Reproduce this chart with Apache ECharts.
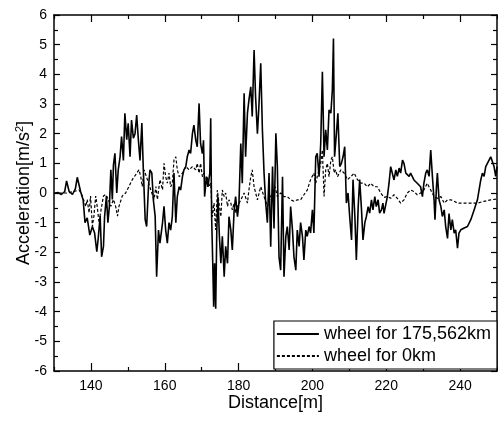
<!DOCTYPE html>
<html>
<head>
<meta charset="utf-8">
<script src="https://cdn.jsdelivr.net/npm/echarts@6/dist/echarts.min.js"></script>
<style>html,body{margin:0;padding:0;background:#fff}#c{width:498px;height:422px}</style>
</head>
<body>
<div id="c"></div>
<script>
// ---- data ----
const xTickLabels = [140, 160, 180, 200, 220, 240];
const xMinorTicks = [130, 150, 170, 190, 210, 230, 250];
const seriesNames = ['wheel for 175,562km', 'wheel for 0km'];

const solidX = [130.0,131.0,132.0,132.9,133.4,134.1,135.0,135.8,136.3,137.2,137.9,138.4,139.0,139.7,140.4,141.0,141.6,142.0,142.5,142.9,143.4,143.7,144.2,144.6,145.0,145.4,145.8,146.1,146.5,147.0,147.4,147.9,148.3,148.8,149.2,149.7,150.1,150.6,151.0,151.5,151.95,152.4,152.85,153.3,153.8,154.2,154.7,155.1,155.6,156.0,156.5,156.9,157.4,157.8,158.3,158.7,159.4,159.8,160.25,160.7,161.15,161.6,162.05,162.5,163.0,163.4,163.9,164.3,164.8,165.2,165.7,166.1,166.6,167.0,167.5,167.9,168.4,168.8,169.3,169.7,170.2,170.5,170.8,171.3,171.7,172.2,172.45,172.7,173.0,173.25,173.5,173.8,174.1,174.4,174.8,175.2,175.6,176.1,176.5,177.0,177.4,177.9,178.3,178.8,179.2,179.7,180.1,180.6,181.0,181.5,181.9,182.4,182.8,183.3,183.7,184.2,184.6,185.1,185.5,186.0,186.45,186.9,187.35,187.8,188.25,188.7,189.2,189.6,190.1,190.5,190.95,191.4,191.9,192.3,192.8,193.2,193.7,194.1,194.6,195.0,195.5,195.9,196.4,196.8,197.3,197.7,198.2,198.6,199.1,199.5,200.0,200.4,200.9,201.3,201.8,202.25,202.7,203.15,203.6,204.05,204.5,205.0,205.4,205.7,206.0,206.5,206.9,207.4,207.85,208.3,208.75,209.2,209.65,210.1,210.6,211.0,211.5,211.9,212.4,212.8,213.3,213.7,214.2,214.6,215.1,215.5,216.0,216.4,216.9,217.3,217.8,218.2,218.7,219.1,219.4,220.3,220.75,221.2,221.65,222.1,222.6,223.0,223.5,223.9,224.4,224.8,225.3,225.7,226.2,226.6,227.5,228.4,229.3,229.8,230.2,230.7,231.1,231.6,232.05,232.5,232.95,233.2,233.6,233.85,234.3,234.8,235.2,235.7,236.1,236.6,237.0,237.5,237.9,238.4,238.8,239.3,239.7,240.2,241.1,242.0,242.9,243.8,244.7,245.6,246.05,246.5,246.95,247.4,247.85,248.3,248.8,249.2,249.65,250.0];
const solidY = [-0.02,0.02,-0.05,0.05,0.41,0.05,-0.05,0.15,0.53,0.05,-0.24,-1.0,-0.84,-1.42,-1.13,-1.35,-1.98,-1.5,-0.78,-2.15,-1.8,-0.8,-0.1,-1.0,-0.45,0.78,-0.22,0.94,1.34,0.0,0.78,1.22,1.9,1.1,2.69,1.8,2.35,1.22,2.46,1.85,2.0,2.63,1.8,1.1,2.36,0.78,-0.9,-1.13,0.23,0.78,0.67,-0.22,-0.78,-2.82,-1.25,-1.69,-1.0,-0.45,-1.25,-1.69,-1.0,-1.25,-0.8,0.67,-1.0,-0.12,0.21,0.1,0.55,0.78,0.89,1.22,1.45,1.33,2.01,2.29,1.78,1.56,3.02,1.67,1.33,1.78,-0.12,0.55,0.21,0.67,2.52,-0.8,-2.37,-3.83,-2.37,-3.9,-1.25,-0.12,-1.46,-2.37,-1.46,-2.82,-1.8,-2.37,-0.8,-1.25,-1.92,-0.57,-0.12,-0.8,-0.34,1.67,0.33,3.36,1.22,2.69,3.13,3.58,2.58,4.82,3.25,2.0,2.91,4.37,2.13,0.67,-0.34,-1.0,0.67,-1.81,0.89,-1.2,2.01,0.89,-2.15,-2.6,0.55,-2.82,-1.46,-1.13,-1.92,-0.46,-1.25,-2.15,-2.6,-1.25,-1.8,-1.0,-1.46,-2.26,-1.25,-1.46,-1.13,-1.35,-0.57,-1.35,1.22,1.34,0.55,1.67,4.09,1.22,2.13,1.45,2.8,2.69,3.47,5.21,1.22,2.0,2.69,0.89,1.0,1.22,1.56,-0.34,0.0,-0.8,-1.58,0.45,-0.8,-2.26,-0.46,0.45,-0.57,-1.58,-1.0,-0.8,-0.46,-0.68,-0.23,-0.57,-0.12,-0.46,-0.23,-0.68,-0.57,-0.34,-0.69,-0.12,0.33,0.89,0.95,0.44,0.78,0.56,0.84,0.67,1.11,1.0,0.67,0.67,0.56,0.67,0.44,0.33,0.21,-0.12,0.33,0.67,0.78,0.56,1.45,0.56,-0.23,-0.9,0.21,0.67,-0.23,-0.46,-0.79,-0.57,-1.13,-1.53,-0.69,-1.24,-0.9,-1.35,-1.24,-1.86,-1.35,-1.24,-1.18,-1.13,-0.9,-0.57,-0.23,0.44,0.67,0.56,0.89,1.0,1.11,1.22,1.28,0.89,0.56,0.89];

const dashX = [130.0,133.5,135.4,136.8,137.7,138.6,139.0,139.5,139.9,140.4,140.8,141.3,141.7,142.2,142.6,143.4,144.0,144.7,145.4,146.1,146.7,147.2,147.6,148.5,149.4,150.3,151.2,152.1,153.0,153.5,153.9,154.4,155.3,156.2,157.1,157.6,158.0,158.7,159.4,159.8,160.25,160.7,161.15,161.6,162.05,162.5,163.0,163.4,163.9,164.8,165.7,166.6,167.5,168.4,168.8,169.3,169.7,170.2,170.65,171.1,171.55,172.0,172.45,172.9,173.35,173.8,174.25,174.7,175.2,175.6,176.1,176.5,177.0,177.4,177.9,178.3,178.8,179.2,179.7,180.6,181.5,182.4,182.8,183.3,183.7,184.2,185.1,186.0,186.9,187.8,188.7,189.9,190.5,191.4,192.3,193.2,194.1,195.0,195.9,196.8,197.7,198.6,199.5,200.4,200.9,201.3,202.25,202.7,203.15,203.6,204.05,204.5,205.0,205.4,205.9,206.3,206.8,207.7,208.6,209.5,210.4,211.3,212.2,213.1,214.0,214.9,215.8,216.7,217.6,218.5,219.4,220.3,221.2,222.1,223.0,223.9,224.8,225.7,226.6,227.5,228.4,229.3,230.2,231.1,232.05,232.95,233.85,234.8,235.7,236.6,237.5,238.4,239.3,241.1,242.9,244.7,246.5,248.3,250.0];
const dashY = [0.0,0.0,0.05,0.1,-0.1,-0.45,-0.22,-0.67,-0.1,-1.13,-0.78,-0.1,-0.45,-1.0,-0.67,-0.1,-0.05,-0.22,-0.45,-0.22,-0.45,-0.78,-0.45,-0.1,0.0,0.22,0.45,0.61,0.78,0.56,0.22,0.78,0.45,0.11,-0.22,0.22,-0.22,0.45,0.11,1.0,0.55,0.33,0.67,0.21,0.33,1.11,1.22,0.78,0.55,0.67,0.89,0.78,0.89,0.78,1.0,0.67,1.0,0.55,0.67,0.33,0.55,0.21,0.33,-0.8,-0.34,-1.25,0.1,-0.34,-0.8,0.1,-0.12,0.0,-0.45,-0.23,-0.34,-0.57,-0.34,-0.68,-0.45,-0.23,0.0,-0.34,0.1,0.55,0.78,0.21,-0.23,0.21,-0.12,-0.45,-0.12,0.21,-0.12,0.0,-0.12,-0.12,-0.23,-0.28,-0.23,-0.23,-0.06,0.1,0.45,0.67,0.33,0.55,1.0,1.45,-0.12,0.78,1.0,0.55,1.11,1.22,0.67,0.78,0.55,0.78,0.67,0.45,0.55,0.67,0.45,0.33,0.33,0.21,0.33,0.21,0.21,0.0,-0.15,-0.12,-0.18,-0.06,-0.18,-0.34,-0.23,0.0,0.1,0.05,-0.06,0.0,0.1,0.33,0.1,-0.12,-0.18,-0.12,-0.34,-0.23,-0.23,-0.28,-0.34,-0.34,-0.34,-0.34,-0.28,-0.23,-0.2];

const pair = (xs, ys) => xs.map((x, i) => [x, ys[i]]);
const FONT = '"Liberation Sans", Arial, sans-serif';
const lineStyle = { color: '#000', width: 1.5 };

const chart = echarts.init(document.getElementById('c'), null, { renderer: 'canvas' });
const xBase = { type: 'value', min: 130, max: 250, gridIndex: 0 };
const yBase = { type: 'value', min: -6, max: 6, interval: 1, gridIndex: 0 };

chart.setOption({
  animation: false,
  backgroundColor: '#fff',
  grid: { left: 54, right: 1, top: 15, bottom: 51, containLabel: false, outerBoundsMode: 'none' },
  xAxis: [
    Object.assign({}, xBase, {
      position: 'bottom',
      name: 'Distance[m]', nameLocation: 'middle', nameGap: 23, nameMoveOverlap: false,
      nameTextStyle: { fontFamily: FONT, fontSize: 18, color: '#000', verticalAlign: 'top' },
      axisLine: { show: true, onZero: false, lineStyle },
      axisTick: { show: true, inside: true, length: 8, customValues: xTickLabels, lineStyle: { color: '#000', width: 1.2 } },
      axisLabel: { show: true, customValues: xTickLabels, margin: 8, color: '#000', fontFamily: FONT, fontSize: 14 },
      splitLine: { show: false }
    }),
    Object.assign({}, xBase, {
      position: 'bottom',
      axisLine: { show: false, onZero: false },
      axisTick: { show: true, inside: true, length: 4, customValues: xMinorTicks, lineStyle: { color: '#000', width: 1.2 } },
      axisLabel: { show: false },
      splitLine: { show: false }
    }),
    Object.assign({}, xBase, {
      position: 'top',
      axisLine: { show: true, onZero: false, lineStyle },
      axisTick: { show: true, inside: true, length: 7, customValues: xTickLabels, lineStyle: { color: '#000', width: 1.2 } },
      axisLabel: { show: false },
      splitLine: { show: false }
    }),
    Object.assign({}, xBase, {
      position: 'top',
      axisLine: { show: false, onZero: false },
      axisTick: { show: true, inside: true, length: 4, customValues: xMinorTicks, lineStyle: { color: '#000', width: 1.2 } },
      axisLabel: { show: false },
      splitLine: { show: false }
    })
  ],
  yAxis: [
    Object.assign({}, yBase, {
      position: 'left',
      name: '{n|Acceleration[m/s}{s|2}{n|]}', nameLocation: 'middle', nameGap: 20, nameMoveOverlap: false,
      nameTextStyle: {
        fontFamily: FONT, fontSize: 18, color: '#000', verticalAlign: 'bottom',
        rich: {
          n: { fontFamily: FONT, fontSize: 18, color: '#000' },
          s: { fontFamily: FONT, fontSize: 11, color: '#000', verticalAlign: 'top', padding: [0, 0, 9, 0] }
        }
      },
      axisLine: { show: true, onZero: false, lineStyle },
      axisTick: { show: true, inside: true, length: 6, lineStyle: { color: '#000', width: 1.2 } },
      minorTick: { show: true, splitNumber: 2, length: 4, lineStyle: { color: '#000', width: 1.2 } },
      axisLabel: { show: true, margin: 7, color: '#000', fontFamily: FONT, fontSize: 14 },
      splitLine: { show: false }, minorSplitLine: { show: false }
    }),
    Object.assign({}, yBase, {
      position: 'right',
      axisLine: { show: true, onZero: false, lineStyle },
      axisTick: { show: true, inside: true, length: 6, lineStyle: { color: '#000', width: 1.2 } },
      minorTick: { show: true, splitNumber: 2, length: 4, lineStyle: { color: '#000', width: 1.2 } },
      axisLabel: { show: false },
      splitLine: { show: false }, minorSplitLine: { show: false }
    })
  ],
  legend: {
    show: true,
    orient: 'vertical',
    right: 1, top: 321,
    data: seriesNames,
    itemWidth: 42, itemHeight: 14, itemGap: 4,
    padding: [4, 6, 4, 2],
    borderColor: '#000', borderWidth: 1.2, borderRadius: 0,
    backgroundColor: '#fff',
    itemStyle: { color: 'rgba(0,0,0,0)', borderWidth: 0, opacity: 0 },
    textStyle: { fontFamily: FONT, fontSize: 18, color: '#000', lineHeight: 18 },
    z: 10
  },
  series: [
    {
      name: seriesNames[1], type: 'line', xAxisIndex: 0, yAxisIndex: 0,
      data: pair(dashX, dashY), showSymbol: false, symbol: 'none',
      lineStyle: { color: '#000', width: 1.2, type: [3, 2] },
      itemStyle: { color: '#000' }, z: 3
    },
    {
      name: seriesNames[0], type: 'line', xAxisIndex: 0, yAxisIndex: 0,
      data: pair(solidX, solidY), showSymbol: false, symbol: 'none',
      lineStyle: { color: '#000', width: 1.6 },
      itemStyle: { color: '#000' }, z: 2
    }
  ]
});
</script>
</body>
</html>
